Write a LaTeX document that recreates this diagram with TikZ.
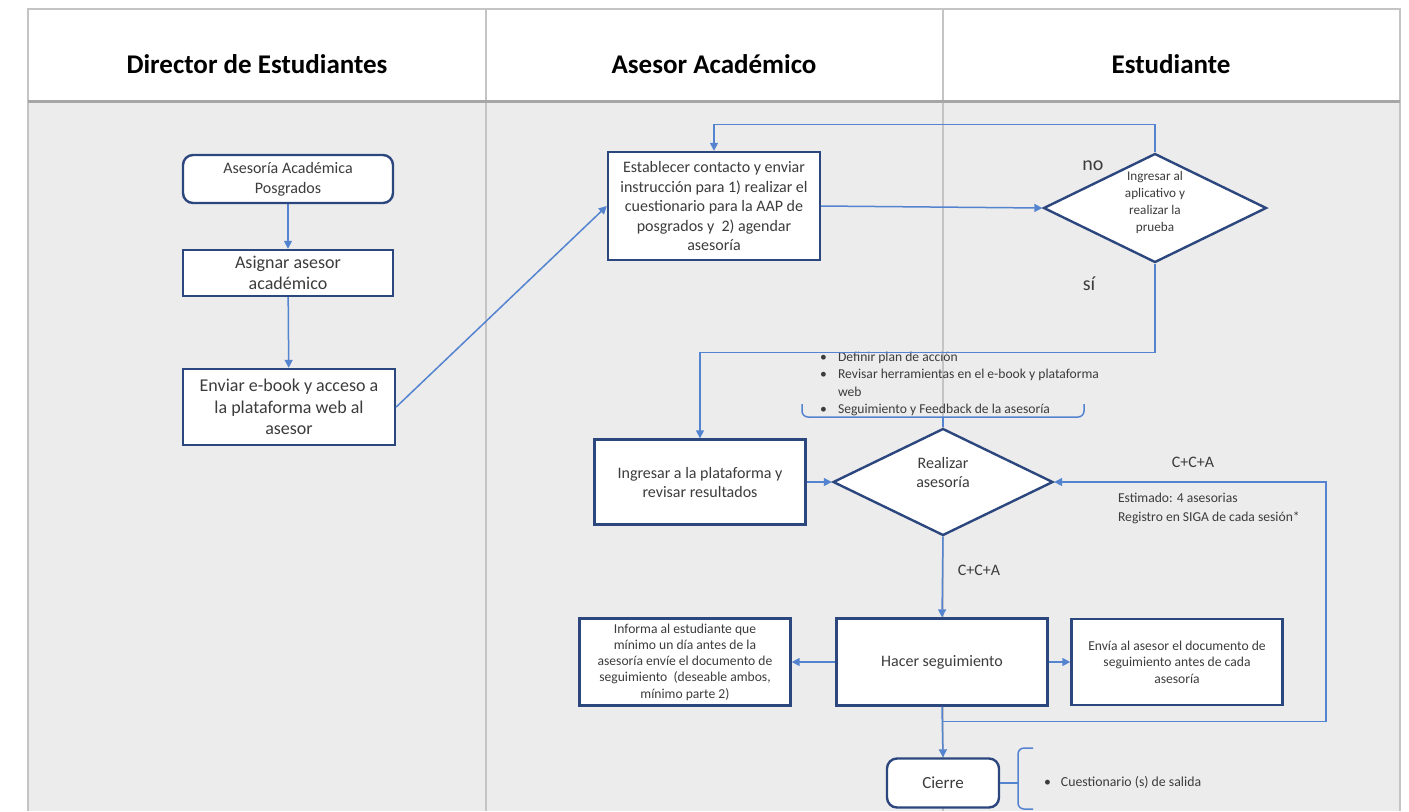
\documentclass[tikz,border=0pt]{standalone}
\usepackage{fontspec}
\setmainfont{Carlito}
\usepackage{tikz}
\usetikzlibrary{arrows.meta,shapes.geometric,calc}
\definecolor{laneline}{RGB}{196,196,196}
\definecolor{lanefill}{RGB}{236,236,236}
\definecolor{boxnavy}{RGB}{44,70,126}
\definecolor{flowblue}{RGB}{84,132,208}
\definecolor{txtgray}{RGB}{60,60,60}
\newcommand{\fsz}[2]{\fontsize{#1}{#2}\selectfont}

\tikzset{
  procbox/.style={draw=boxnavy, line width=1.2pt, fill=white, align=center,
    inner sep=2pt, text=txtgray},
  startbox/.style={procbox, rounded corners=5pt},
  decision/.style={diamond, draw=boxnavy, line width=1.2pt, fill=white,
    align=center, inner sep=0pt, aspect=2, text=txtgray},
  conn/.style={draw=flowblue, line width=0.75pt, -{Triangle[length=4pt,width=4pt]}},
  flowline/.style={draw=flowblue, line width=0.75pt},
  lanehead/.style={font=\fsz{13.5}{16}\bfseries, text=black},
  note/.style={text=txtgray, align=left}
}

\begin{document}
\begin{tikzpicture}[x=0.5pt, y=-0.5pt]
  \useasboundingbox (0,0) rectangle (1409,811);

  % Lanes
  \fill[white] (0,0) rectangle (1409,811);
  \fill[lanefill] (28,101) rectangle (1400,811);
  \draw[laneline, line width=1pt] (28,811) -- (28,9) -- (1400,9) -- (1400,811);
  \foreach \x in {486,943}
    \draw[laneline, line width=1pt] (\x,9) -- (\x,811);
  \draw[gray!70, line width=1.5pt] (28,101) -- (1400,101);

  \node[lanehead] (hDir) at (257,64) {Director de Estudiantes};
  \node[lanehead] (hAse) at (714,64) {Asesor Académico};
  \node[lanehead] (hEst) at (1171,64) {Estudiante};

  % Director de Estudiantes
  \node[startbox, minimum width=105pt, minimum height=24pt, font=\fsz{8}{10}]
    (bStart) at (288,179) {Asesoría Académica\\Posgrados};
  \node[procbox, minimum width=105pt, minimum height=23pt, font=\fsz{9}{10.5}]
    (bAssign) at (288,273) {Asignar asesor\\académico};
  \node[procbox, minimum width=106pt, minimum height=38pt, font=\fsz{9}{10.75}]
    (bEbook) at (289,407) {Enviar e-book y acceso a\\la plataforma web al\\asesor};

  % Asesor / Estudiante
  \node[procbox, minimum width=106pt, minimum height=54pt, font=\fsz{8}{9.75}]
    (bContact) at (714,206) {Establecer contacto y enviar\\instrucción para 1) realizar el\\cuestionario para la AAP de\\posgrados y \ 2) agendar\\asesoría};
  \node[decision, minimum width=111.5pt, minimum height=54.5pt, font=\fsz{6.6}{8.5}]
    (dTest) at (1155,208) {Ingresar al\\aplicativo y\\realizar la\\prueba\\[-2pt]\mbox{}};
  \node[procbox, minimum width=105.5pt, minimum height=42.5pt, font=\fsz{8}{9.5}]
    (bRes) at (700,482) {Ingresar a la plataforma y\\revisar resultados};
  \node[decision, minimum width=110pt, minimum height=53.5pt, font=\fsz{8}{9.75}]
    (dAses) at (943,482) {Realizar\\asesoría\\\mbox{}};
  \node[procbox, minimum width=105.5pt, minimum height=43.5pt, font=\fsz{8}{9.75}]
    (bFollow) at (942,662) {Hacer seguimiento};
  \node[procbox, minimum width=105.5pt, minimum height=43.5pt, font=\fsz{6.8}{8.1}]
    (bInform) at (685,662) {Informa al estudiante que\\mínimo un día antes de la\\asesoría envíe el documento de\\seguimiento \ (deseable ambos,\\mínimo parte 2)};
  \node[procbox, minimum width=105.5pt, minimum height=43pt, font=\fsz{6.8}{8.2}]
    (bSend) at (1177,662) {Envía al asesor el documento de\\seguimiento antes de cada\\asesoría};
  \node[startbox, minimum width=56pt, minimum height=24.5pt, font=\fsz{8.5}{10}]
    (bClose) at (943,783) {Cierre};

  % Notes and labels
  \node[note, anchor=west, font=\fsz{6.8}{8.6}] (nPlan) at (813,384) {%
    \begin{tabular}{@{}l@{\hspace{5.6pt}}l@{}}
      \textbullet & Definir plan de acción\\
      \textbullet & Revisar herramientas en el e-book y plataforma\\
                  & web\\
      \textbullet & Seguimiento y Feedback de la asesoría
    \end{tabular}};
  \node[note, anchor=west, font=\fsz{6.8}{9.5}] (nSesion) at (1111,508)
    {Estimado: 4 asesorias\\Registro en SIGA de cada sesión*};
  \node[note, anchor=west, font=\fsz{6.9}{8.5}] (nExit) at (1037,782)
    {\textbullet\hspace{5pt}Cuestionario (s) de salida};
  \node[font=\fsz{10}{12}, text=txtgray] (lNo) at (1093,166) {no};
  \node[font=\fsz{10}{12}, text=txtgray] (lSi) at (1089,284) {sí};
  \node[font=\fsz{8}{10}, text=txtgray] (lLoop) at (1193,462) {C+C+A};
  \node[font=\fsz{8}{10}, text=txtgray] (lDown) at (979,570) {C+C+A};

  % Connectors
  \draw[conn] (bStart) -- (bAssign);
  \draw[conn] (bAssign) -- (bEbook);
  \draw[conn] (bEbook.east) -- (bContact.west);
  \draw[conn] (bContact.east) -- (dTest.west);
  \draw[conn] (dTest.north) -- ++(0,-28) -| (bContact.north);
  \draw[conn] (dTest.south) -- ++(0,89) -| (bRes.north);
  \draw[conn] (bRes.east) -- (dAses.west);
  \draw[conn] (dAses.south) -- (bFollow.north);
  \draw[conn] (bFollow.west) -- (bInform.east);
  \draw[conn] (bFollow.east) -- (bSend.west);
  \draw[conn] (bFollow.south) -- (bClose.north);
  \coordinate (jLoop) at ($(bFollow.south)+(0,15)$);
  \draw[conn] (jLoop) -- ++(384,0) |- (dAses.east);

  % Braces
  \coordinate (cPlan) at (943,417);
  \draw[flowline, rounded corners=3pt] (802,404) |- (1084,417) -- (1084,404);
  \draw[flowline] (cPlan) -- (dAses.north);
  \coordinate (cExit) at (1018,783);
  \draw[flowline, rounded corners=3pt] (1033,748) -| (1018,809) -- (1033,809);
  \draw[flowline] (bClose.east) -- (cExit);
\end{tikzpicture}
\end{document}
